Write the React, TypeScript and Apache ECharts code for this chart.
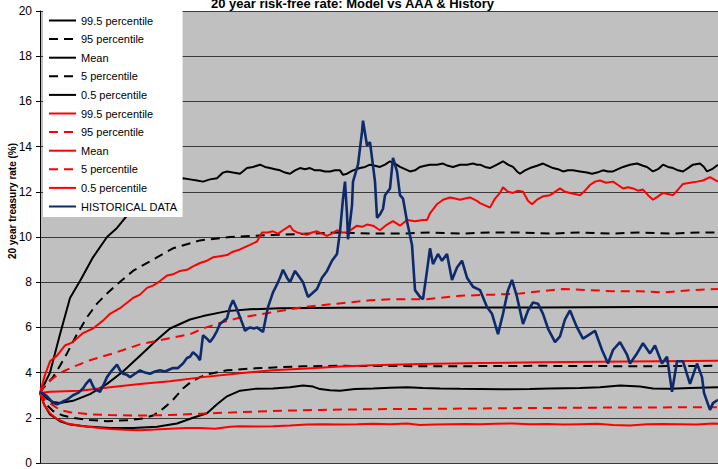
import React, { useEffect, useRef } from "react";
import * as echarts from "echarts";

const FONT = "'Liberation Sans', Arial, sans-serif";

const titleText = "20 year risk-free rate: Model vs AAA & History";
const yAxisTitle = "20 year treasury rate (%)";

// x = time step (0..678), y = rate (%)
const black995: number[][] = [[0,3.1],[10,4.0],[20,5.7],[30,7.3],[40,8.05],[53,9.1],[67,10.0],[77,10.4],[88,11.0],[110,11.9],[130,12.4],[143,12.6],[150,12.55],[157,12.5],[163,12.45],[170,12.55],[177,12.6],[183,12.85],[187,12.9],[193,12.85],[200,12.8],[207,13.05],[213,13.1],[220,13.2],[225,13.1],[230,13.05],[235,13.0],[240,12.95],[245,12.85],[250,12.8],[255,12.95],[260,13.05],[265,13.0],[270,13.05],[275,12.95],[280,12.95],[285,12.9],[290,12.9],[295,12.95],[300,12.95],[303,12.75],[307,12.8],[313,12.95],[320,13.05],[325,13.1],[330,13.2],[335,13.15],[340,13.1],[345,13.2],[350,13.35],[355,13.25],[360,13.1],[365,13.0],[370,12.9],[375,12.95],[380,13.1],[385,13.15],[390,13.2],[397,13.2],[403,13.25],[408,13.15],[413,13.1],[420,13.2],[427,13.2],[433,13.25],[437,13.2],[440,13.2],[445,13.1],[450,13.05],[457,13.2],[463,13.35],[468,13.2],[473,13.1],[477,12.9],[480,12.8],[485,12.95],[490,13.05],[497,13.15],[503,13.25],[508,13.15],[513,13.05],[518,13.0],[523,12.9],[528,12.95],[533,12.95],[540,12.9],[547,12.85],[552,12.8],[557,12.85],[563,12.95],[568,12.9],[573,12.9],[578,13.0],[583,13.1],[590,13.2],[597,13.25],[603,13.15],[607,13.1],[613,12.9],[618,13.0],[623,13.2],[628,13.1],[633,13.05],[638,12.95],[643,12.9],[648,13.05],[653,13.2],[660,13.25],[664,13.1],[667,12.9],[672,13.0],[678,13.2]];
const black95: number[][] = [[0,3.1],[3,3.3],[13,3.8],[20,4.3],[27,4.85],[37,5.7],[47,6.45],[57,7.05],[67,7.5],[77,7.9],[93,8.5],[113,9.0],[133,9.5],[160,9.85],[190,10.0],[210,10.05],[240,10.1],[270,10.15],[300,10.2],[330,10.15],[360,10.15],[390,10.2],[420,10.15],[450,10.2],[480,10.2],[510,10.15],[540,10.2],[570,10.15],[600,10.2],[630,10.15],[660,10.2],[678,10.2]];
const blackMean: number[][] = [[0,3.1],[7,2.85],[13,2.7],[20,2.65],[33,2.75],[50,3.05],[67,3.5],[83,4.05],[100,4.75],[117,5.45],[130,5.95],[150,6.35],[163,6.5],[187,6.72],[210,6.8],[240,6.85],[300,6.87],[400,6.88],[500,6.88],[600,6.9],[678,6.9]];
const black5: number[][] = [[0,3.1],[5,2.65],[13,2.3],[23,2.1],[33,2.0],[50,1.9],[67,1.85],[90,1.9],[103,1.97],[113,2.1],[120,2.3],[127,2.55],[133,2.8],[143,3.3],[150,3.55],[160,3.8],[170,3.95],[187,4.1],[210,4.18],[230,4.22],[263,4.28],[300,4.3],[400,4.28],[500,4.3],[600,4.28],[678,4.3]];
const black05: number[][] = [[0,3.1],[4,2.6],[10,2.15],[20,1.85],[30,1.7],[47,1.62],[70,1.55],[93,1.55],[117,1.6],[137,1.75],[153,2.0],[167,2.2],[177,2.6],[187,2.95],[200,3.2],[215,3.28],[233,3.3],[250,3.35],[263,3.43],[273,3.38],[280,3.27],[290,3.22],[300,3.2],[315,3.27],[333,3.3],[350,3.33],[367,3.35],[383,3.32],[400,3.3],[420,3.28],[440,3.27],[460,3.26],[490,3.27],[510,3.3],[540,3.32],[560,3.35],[580,3.43],[600,3.38],[613,3.3],[630,3.28],[650,3.32],[678,3.35]];
const red995: number[][] = [[0,3.1],[5,3.9],[10,4.5],[17,4.75],[25,5.2],[33,5.35],[43,5.75],[53,5.95],[63,6.3],[70,6.6],[80,6.85],[93,7.3],[100,7.45],[107,7.75],[113,7.85],[120,8.05],[127,8.3],[133,8.35],[140,8.5],[147,8.55],[153,8.7],[160,8.85],[167,8.95],[173,9.1],[180,9.15],[187,9.2],[193,9.35],[200,9.45],[205,9.55],[210,9.65],[217,9.8],[222,10.2],[228,10.2],[233,10.25],[238,10.15],[243,10.3],[250,10.5],[253,10.3],[257,10.2],[262,10.15],[267,10.1],[272,10.2],[277,10.25],[282,10.15],[287,10.05],[292,10.15],[297,10.3],[302,10.2],[307,10.2],[312,10.35],[317,10.5],[322,10.45],[327,10.55],[333,10.5],[340,10.3],[347,10.55],[353,10.7],[360,10.5],[367,10.75],[375,10.7],[383,10.75],[387,10.75],[390,11.05],[397,11.45],[403,11.65],[410,11.75],[415,11.7],[420,11.65],[425,11.7],[430,11.75],[437,11.6],[440,11.5],[445,11.4],[450,11.3],[455,11.7],[460,11.95],[463,12.2],[468,12.0],[473,11.95],[478,12.05],[483,12.0],[488,11.6],[492,11.45],[497,11.65],[503,11.8],[510,11.85],[515,12.0],[520,12.15],[525,12.0],[530,11.95],[535,11.9],[540,11.85],[545,12.05],[550,12.3],[555,12.45],[560,12.5],[566,12.4],[573,12.45],[578,12.3],[583,12.15],[588,12.2],[593,12.15],[598,12.05],[603,12.1],[608,11.85],[613,11.65],[618,11.8],[623,11.95],[628,11.9],[633,11.85],[638,12.1],[643,12.35],[650,12.4],[657,12.45],[663,12.5],[670,12.65],[674,12.55],[678,12.45]];
const red95: number[][] = [[0,3.1],[5,3.45],[13,3.75],[23,4.05],[33,4.25],[50,4.55],[73,4.85],[100,5.25],[127,5.5],[150,5.7],[163,5.95],[180,6.2],[197,6.4],[230,6.65],[263,6.9],[297,7.05],[330,7.2],[353,7.25],[387,7.25],[420,7.4],[453,7.45],[480,7.5],[500,7.6],[523,7.7],[550,7.65],[573,7.6],[600,7.6],[623,7.55],[650,7.65],[678,7.7]];
const redMean: number[][] = [[0,3.1],[10,3.15],[40,3.2],[70,3.35],[100,3.5],[130,3.62],[163,3.8],[200,3.97],[233,4.1],[267,4.18],[300,4.27],[333,4.33],[380,4.38],[440,4.42],[500,4.46],[560,4.48],[620,4.5],[678,4.52]];
const red5: number[][] = [[0,3.1],[5,2.8],[13,2.55],[20,2.35],[30,2.25],[50,2.15],[70,2.12],[100,2.1],[130,2.12],[160,2.18],[200,2.25],[230,2.3],[280,2.35],[330,2.38],[400,2.4],[480,2.43],[560,2.45],[678,2.47]];
const red05: number[][] = [[0,3.1],[4,2.6],[10,2.2],[17,1.95],[27,1.75],[40,1.65],[55,1.57],[70,1.5],[85,1.47],[100,1.45],[115,1.48],[130,1.52],[145,1.55],[160,1.55],[175,1.52],[190,1.6],[200,1.63],[215,1.62],[233,1.63],[250,1.66],[267,1.7],[283,1.72],[300,1.7],[317,1.72],[333,1.74],[350,1.72],[367,1.75],[380,1.68],[395,1.7],[410,1.72],[425,1.73],[440,1.72],[455,1.74],[473,1.75],[490,1.72],[507,1.73],[523,1.7],[540,1.72],[557,1.74],[573,1.68],[590,1.66],[607,1.71],[623,1.73],[640,1.72],[657,1.7],[673,1.75],[678,1.74]];
const historical: number[][] = [[0,3.15],[4,3.05],[7,2.95],[10,2.8],[13,2.65],[17,2.6],[20,2.65],[24,2.75],[27,2.8],[30,2.9],[33,3.0],[38,3.1],[43,3.3],[46,3.5],[50,3.7],[53,3.4],[55,3.25],[58,3.2],[60,3.15],[64,3.5],[67,3.8],[72,4.1],[77,4.35],[80,4.1],[83,3.95],[87,3.9],[90,3.8],[95,3.95],[100,4.1],[105,4.0],[110,3.95],[115,4.05],[120,4.1],[125,4.05],[130,4.15],[133,4.2],[138,4.2],[143,4.4],[147,4.65],[150,4.7],[153,4.9],[157,4.75],[160,4.55],[163,5.65],[167,5.5],[170,5.35],[174,5.6],[177,5.85],[180,6.15],[184,6.3],[187,6.4],[190,6.9],[193,7.2],[196,6.9],[200,6.45],[203,6.1],[205,5.85],[208,5.95],[210,6.0],[214,5.95],[217,6.0],[220,5.9],[223,5.8],[228,6.9],[233,7.55],[237,7.9],[240,8.2],[243,8.55],[247,8.2],[250,8.0],[255,8.5],[259,8.25],[263,8.0],[266,7.6],[268,7.35],[272,7.5],[277,7.7],[282,8.2],[287,8.5],[292,8.95],[297,9.25],[300,10.25],[303,11.7],[305,12.45],[307,11.0],[308,9.9],[312,11.4],[313,12.45],[318,13.2],[322,14.65],[323,15.15],[327,14.05],[330,14.2],[332,13.5],[335,12.45],[337,10.85],[340,11.0],[343,11.25],[345,11.85],[350,12.15],[353,13.5],[357,12.9],[360,11.85],[363,11.7],[367,10.7],[372,9.65],[375,7.65],[380,7.35],[383,7.25],[387,8.5],[390,9.5],[393,8.8],[398,9.25],[402,8.95],[407,9.25],[412,8.1],[417,8.65],[422,8.95],[427,8.2],[433,7.8],[440,7.65],[447,6.9],[452,6.6],[458,5.7],[463,6.6],[468,7.65],[472,8.1],[477,7.35],[483,6.15],[488,6.75],[493,7.1],[498,7.05],[503,6.6],[508,5.95],[515,5.35],[520,5.6],[525,6.35],[530,6.75],[537,6.0],[543,5.5],[550,5.7],[555,5.85],[562,5.0],[568,4.4],[573,5.0],[580,5.35],[587,4.8],[590,4.4],[597,4.85],[603,5.3],[610,4.85],[615,5.2],[622,4.4],[627,4.7],[632,3.15],[637,4.5],[643,4.5],[650,3.5],[657,4.4],[662,3.8],[664,3.1],[670,2.35],[673,2.65],[678,2.8]];

const seriesDefs = [
  { id: "b995", label: "99.5 percentile", color: "#000000", dashed: false, data: black995 },
  { id: "b95", label: "95 percentile", color: "#000000", dashed: true, data: black95 },
  { id: "bmean", label: "Mean", color: "#000000", dashed: false, data: blackMean },
  { id: "b5", label: "5 percentile", color: "#000000", dashed: true, data: black5 },
  { id: "b05", label: "0.5 percentile", color: "#000000", dashed: false, data: black05 },
  { id: "r995", label: "99.5 percentile", color: "#ff0000", dashed: false, data: red995 },
  { id: "r95", label: "95 percentile", color: "#ff0000", dashed: true, data: red95 },
  { id: "rmean", label: "Mean", color: "#ff0000", dashed: false, data: redMean },
  { id: "r5", label: "5 percentile", color: "#ff0000", dashed: true, data: red5 },
  { id: "r05", label: "0.5 percentile", color: "#ff0000", dashed: false, data: red05 },
  { id: "hist", label: "HISTORICAL DATA", color: "#0d2b6c", dashed: false, data: historical },
];

export default function App() {
  const ref = useRef<HTMLDivElement>(null);
  useEffect(() => {
    if (!ref.current) return;
    const chart = echarts.init(ref.current, null, { renderer: "svg" });
    const labelMap: Record<string, string> = {};
    seriesDefs.forEach((s) => (labelMap[s.id] = s.label));
    chart.setOption({
      animation: false,
      backgroundColor: "#ffffff",
      textStyle: { fontFamily: FONT },
      title: {
        text: titleText,
        left: 211,
        top: -3,
        padding: 0,
        textStyle: { fontSize: 13, fontWeight: "bold", color: "#000", fontFamily: FONT },
      },
      grid: {
        left: 40,
        right: 0,
        top: 11,
        bottom: 2,
        show: true,
        backgroundColor: "#c0c0c0",
        borderWidth: 0,
      },
      legend: {
        orient: "vertical",
        left: 43,
        top: 11,
        padding: [4, 5, 5, 5],
        backgroundColor: "#ffffff",
        itemWidth: 27,
        itemHeight: 12,
        itemGap: 7.6,
        itemStyle: { opacity: 0 },
        data: seriesDefs.map((s) => s.id),
        formatter: (name: string) => labelMap[name],
        textStyle: { fontSize: 11, color: "#000", fontFamily: FONT },
      },
      xAxis: {
        type: "value",
        min: 0,
        max: 678,
        axisLine: { show: false },
        axisTick: { show: false },
        axisLabel: { show: false },
        splitLine: { show: false },
      },
      yAxis: {
        type: "value",
        min: 0,
        max: 20,
        interval: 2,
        axisLine: { show: true, lineStyle: { color: "#000", width: 1 } },
        axisTick: { show: true, length: 4, lineStyle: { color: "#000" } },
        axisLabel: { fontSize: 12, color: "#000", margin: 8, fontFamily: FONT },
        splitLine: { show: true, lineStyle: { color: "#3a3a3a", width: 1 } },
      },
      graphic: [
        {
          type: "text",
          x: 12,
          y: 201,
          rotation: Math.PI / 2,
          style: {
            text: yAxisTitle,
            fontSize: 10,
            fontWeight: "bold",
            fontFamily: FONT,
            fill: "#000",
            align: "center",
            verticalAlign: "middle",
          },
        },
      ],
      series: seriesDefs.map((s) => ({
        name: s.id,
        type: "line",
        data: s.data,
        showSymbol: false,
        symbol: "none",
        lineStyle: {
          color: s.color,
          width: s.id === "hist" ? 2.6 : 2,
          type: s.dashed ? [9, 6] : "solid",
        },
        itemStyle: { color: s.color },
      })),
    });
    return () => chart.dispose();
  }, []);
  return (
    <div
      ref={ref}
      style={{ position: "absolute", left: 0, top: 0, width: 718, height: 469 }}
    />
  );
}
